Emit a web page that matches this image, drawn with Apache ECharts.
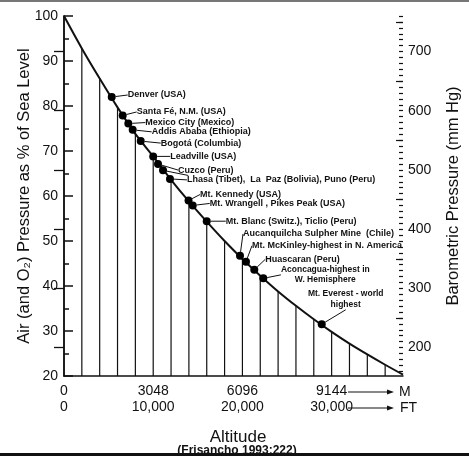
<!DOCTYPE html>
<html>
<head>
<meta charset="utf-8">
<script src="https://cdn.jsdelivr.net/npm/echarts@6/dist/echarts.min.js"></script>
<style>
  html, body { margin: 0; background: #fff; }
  #chart { width: 469px; height: 456px; }
</style>
</head>
<body>
<div id="chart"></div>
<script>
// altitude (ft) of each vertical rule, and the curve height there (% of sea level)
const altFt = [0, 2000, 4000, 6000, 8000, 10000, 12000, 14000, 16000, 18000,
  20000, 22000, 24000, 26000, 28000, 30000, 32000, 34000, 36000, 38000]
const pressurePct = [100, 92.8, 86.1, 79.7, 73.8, 68.8, 63.6, 58.8, 54.3, 50.0,
  46.0, 42.3, 38.8, 35.6, 32.6, 29.8, 27.2, 24.8, 22.5, 20.3]

// places marked on the curve
const places = [
  'Denver (USA)',
  'Santa Fé, N.M. (USA)',
  'Mexico City (Mexico)',
  'Addis Ababa (Ethiopia)',
  'Bogotá (Columbia)',
  'Leadville (USA)',
  'Cuzco (Peru)',
  ' ',
  'Lhasa (Tibet),  La  Paz (Bolivia), Puno (Peru)',
  'Mt. Kennedy (USA)',
  'Mt. Wrangell , Pikes Peak (USA)',
  'Mt. Blanc (Switz.), Ticlio (Peru)',
  'Aucanquilcha Sulpher Mine  (Chile)',
  'Mt. McKinley-highest in N. America',
  'Huascaran (Peru)',
  'Aconcagua-highest in\nW. Hemisphere',
  'Mt. Everest - world\nhighest'
]
const placeFt = [5350, 6580, 7210, 7700, 8600, 10000, 10540, 11100, 11880,
  13960, 14430, 16000, 19730, 20400, 21330, 22340, 28890]
const placePct = [82.0, 77.9, 76.1, 74.7, 72.2, 68.8, 67.1, 65.7, 63.8,
  59.0, 57.9, 54.4, 46.7, 45.4, 43.6, 41.7, 31.5]

// tick labels
const meterLabels = [0, 3048, 6096, 9144]
const feetLabels = [0, 10000, 20000, 30000]
const mmHgLabels = [200, 300, 400, 500, 600, 700]

// where each place label sits relative to its dot
const labelOffsets = [
  [12, -2], [10, -3.5], [13, -1], [15, 2], [16, 2], [13, 0], [16, 6], [20, 9.6],
  [13, 1], [7.5, -6], [13, -2], [15, 0], [-1, -22], [2, -16], [7, -10.5],
  [58, -3.5], [20, -25]
]

const mmHgHalf = mmHgLabels.map(v => v + 50)
const mmHgMinor = []
for (let v = 160; v <= 760; v += 10) mmHgMinor.push(v)

const ink = '#111'
const chart = echarts.init(document.getElementById('chart'))

const rightAxis = (extra) => Object.assign({
  type: 'value', position: 'right', min: 152, max: 760,
  splitLine: { show: false },
  axisLine: { show: false },
  axisLabel: { show: false }
}, extra)

chart.setOption({
  animation: false,
  textStyle: { fontFamily: 'Liberation Sans, Arial, sans-serif', color: ink },
  grid: { left: 64, right: 66, top: 16, bottom: 80, containLabel: false, outerBoundsMode: 'none' },
  xAxis: [
    {
      type: 'value', min: 0, max: 11582.4, position: 'bottom',
      axisLine: { lineStyle: { color: ink, width: 1.5 } },
      axisTick: { show: false },
      splitLine: { show: false },
      axisLabel: { customValues: meterLabels, fontSize: 14, color: ink, margin: 8, formatter: v => String(v) }
    },
    {
      type: 'value', min: 0, max: 38000, position: 'bottom', offset: 16,
      axisLine: { show: false },
      axisTick: { show: false },
      splitLine: { show: false },
      axisLabel: {
        customValues: feetLabels, fontSize: 14, color: ink, margin: 8,
        formatter: v => v.toLocaleString('en-US')
      }
    }
  ],
  yAxis: [
    {
      type: 'value', min: 20, max: 100, interval: 10, position: 'left',
      axisLine: { show: true, lineStyle: { color: ink, width: 1.5 } },
      axisTick: { show: true, inside: true, length: 9, lineStyle: { color: ink, width: 1.5 } },
      minorTick: { show: true, splitNumber: 2, length: 5, lineStyle: { color: ink, width: 1.5 } },
      splitLine: { show: false },
      axisLabel: { fontSize: 14, color: ink, margin: 6 },
      name: 'Air (and O₂) Pressure as % of Sea Level',
      nameLocation: 'middle', nameGap: 31, nameMoveOverlap: false,
      nameTextStyle: { fontSize: 16.5, color: ink }
    },
    rightAxis({
      axisLine: { show: true, lineStyle: { color: ink, width: 1.5 } },
      axisTick: { show: true, inside: true, length: 10, customValues: mmHgLabels, lineStyle: { color: ink, width: 1.3 } },
      axisLabel: { show: true, customValues: mmHgLabels, fontSize: 14, color: ink, margin: 5 },
      name: 'Barometric Pressure (mm Hg)',
      nameLocation: 'middle', nameGap: 42, nameMoveOverlap: false,
      nameTextStyle: { fontSize: 16.5, color: ink }
    }),
    rightAxis({
      axisTick: { show: true, inside: true, length: 7, customValues: mmHgHalf, lineStyle: { color: ink, width: 1.2 } }
    }),
    rightAxis({
      axisTick: { show: true, inside: true, length: 4, customValues: mmHgMinor, lineStyle: { color: ink, width: 1.2 } }
    })
  ],
  series: [
    {
      type: 'bar', xAxisIndex: 1, yAxisIndex: 0, silent: true,
      barWidth: 1.2, clip: true,
      itemStyle: { color: ink },
      data: altFt.slice(1, -1).map((x, i) => [x, pressurePct[i + 1]])
    },
    {
      type: 'line', xAxisIndex: 1, yAxisIndex: 0, silent: true,
      smooth: 0.3, symbol: 'none', z: 3,
      lineStyle: { color: ink, width: 2 },
      data: altFt.map((x, i) => [x, pressurePct[i]])
    },
    {
      type: 'scatter', xAxisIndex: 1, yAxisIndex: 0, z: 4,
      symbolSize: 8,
      itemStyle: { color: '#000', opacity: 1 },
      label: {
        show: true, position: 'right', distance: 0,
        formatter: '{b}', fontSize: 9, fontWeight: 'bold', color: ink
      },
      labelLine: { show: true, lineStyle: { color: ink, width: 1 } },
      labelLayout: (p) => ({ dx: labelOffsets[p.dataIndex][0], dy: labelOffsets[p.dataIndex][1] }),
      data: placeFt.map((x, i) => {
        const item = { name: places[i], value: [x, placePct[i]] }
        if (places[i].includes('\n')) {
          item.label = { align: 'center', fontSize: 8.5, lineHeight: 10.5 }
        }
        return item
      })
    }
  ],
  graphic: [
    { type: 'rect', shape: { x: 0, y: 0, width: 469, height: 2 }, style: { fill: '#777' } },
    { type: 'line', shape: { x1: 348, y1: 392, x2: 389, y2: 392 }, style: { stroke: ink, lineWidth: 1.2 } },
    { type: 'polygon', shape: { points: [[394, 392], [387, 389.5], [387, 394.5]] }, style: { fill: ink } },
    { type: 'text', x: 399, y: 392, style: { text: 'M', fontSize: 14, fill: ink, verticalAlign: 'middle', fontFamily: 'Liberation Sans' } },
    { type: 'line', shape: { x1: 348, y1: 408, x2: 389, y2: 408 }, style: { stroke: ink, lineWidth: 1.2 } },
    { type: 'polygon', shape: { points: [[394, 408], [387, 405.5], [387, 410.5]] }, style: { fill: ink } },
    { type: 'text', x: 400, y: 408, style: { text: 'FT', fontSize: 14, fill: ink, verticalAlign: 'middle', fontFamily: 'Liberation Sans' } },
    { type: 'text', x: 238, y: 437, style: { text: 'Altitude', fontSize: 17, fill: ink, align: 'center', verticalAlign: 'middle', fontFamily: 'Liberation Sans' } },
    { type: 'text', x: 237, y: 451, style: { text: '(Frisancho 1993:222)', fontSize: 12, fontWeight: 'bold', fill: ink, align: 'center', verticalAlign: 'middle', fontFamily: 'Liberation Sans' } },
    { type: 'rect', z: 10, shape: { x: 0, y: 453, width: 469, height: 3 }, style: { fill: ink } }
  ]
})
</script>
</body>
</html>
